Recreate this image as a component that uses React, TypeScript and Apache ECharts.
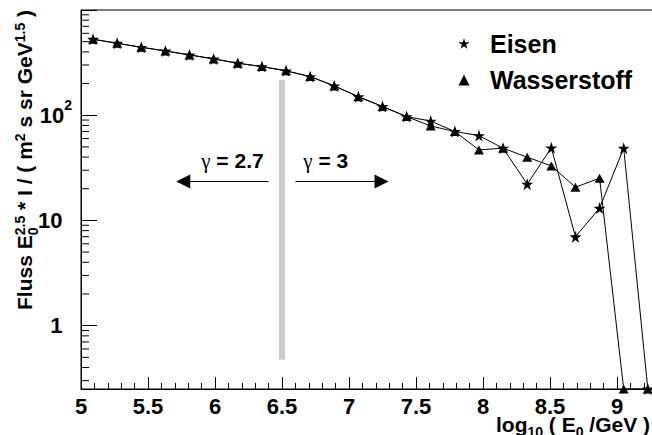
import { useEffect, useRef } from 'react';
import * as echarts from 'echarts';

// Bin centres, log10(E0/GeV)
const energies = [
  5.09, 5.27, 5.45, 5.63, 5.81, 5.99, 6.17, 6.35, 6.53, 6.71, 6.89, 7.07,
  7.25, 7.43, 7.61, 7.79, 7.97, 8.15, 8.33, 8.51, 8.69, 8.87, 9.05, 9.23,
];
// Flux E0^2.5 * I for iron primaries (0 = empty bin)
const eisen = [
  527, 483, 442, 408, 374, 343, 312, 290, 264, 233, 190, 150,
  121, 97, 88, 70, 64, 48.6, 22.1, 49, 7.0, 13.1, 48.6, 0,
];
// Flux E0^2.5 * I for hydrogen primaries (0 = empty bin)
const wasserstoff = [
  527, 483, 442, 408, 374, 343, 312, 290, 264, 233, 190, 150,
  121, 97, 79, 70, 46.8, 48.6, 39.9, 33, 20.7, 25.2, 0, 0,
];

const X_MIN = 5;
const X_MAX = 9.5;
const X_STEP = 0.5;
const Y_MIN = 0.25;
const Y_MAX = 1000;

// Knee marker: grey bar and the two spectral-index arrows
const kneeBar = [[6.5, 216], [6.5, 0.473]];
const arrowY = 23.4;
const arrowLeft = [6.4, 5.763];
const arrowRight = [6.6, 7.243];
const gammaBaseline = 31.5;
const gammaLeftEnd = 6.363;
const gammaRightStart = 6.659;

const FONT = '"Liberation Sans", Arial, Helvetica, sans-serif';
const SERIF = '"Liberation Serif", "Times New Roman", serif';
const STAR =
  'path://M0,-10L2.245,-3.09L9.51,-3.09L3.633,1.18L5.878,8.09L0,3.82L-5.878,8.09L-3.633,1.18L-9.51,-3.09L-2.245,-3.09Z';

type Seg = { t: string; size: number; dy?: number; stack?: boolean; family?: string; weight?: string };

// Lays out a run of text pieces along a common baseline (y = 0).
function layoutRun(segs: Seg[]) {
  const ctx = document.createElement('canvas').getContext('2d')!;
  const els: any[] = [];
  let x = 0;
  let pending = 0;
  for (const s of segs) {
    const family = s.family ?? FONT;
    const weight = s.weight ?? 'bold';
    ctx.font = `${weight} ${s.size}px ${family}`;
    const full = ctx.measureText(s.t).width;
    const trimmed = s.t.trim();
    const lead = s.t.length - s.t.trimStart().length;
    const offset = lead > 0 ? ctx.measureText(s.t.slice(0, lead)).width : 0;
    els.push({
      type: 'text',
      x: x + offset,
      y: (s.dy ?? 0) - 0.3465 * s.size,
      silent: true,
      style: {
        text: trimmed,
        fontSize: s.size,
        fontFamily: family,
        fontWeight: weight,
        lineHeight: Math.round(s.size * 0.8),
        fill: '#000',
        align: 'left',
        verticalAlign: 'middle',
      },
    });
    if (s.stack) {
      pending = Math.max(pending, full);
    } else {
      x += Math.max(pending, full);
      pending = 0;
    }
  }
  return { els, width: x };
}

const yMinorTicks: number[] = [];
for (const decade of [0.1, 1, 10, 100]) {
  for (let k = 2; k <= 9; k++) {
    const v = k * decade;
    if (v > Y_MIN && v < Y_MAX) yMinorTicks.push(v);
  }
}

const atFloor = (v: number) => (v > 0 ? v : Y_MIN);

export default function App() {
  const ref = useRef<HTMLDivElement>(null);

  useEffect(() => {
    const chart = echarts.init(ref.current!, null, { renderer: 'svg' });

    const option: any = {
      animation: false,
      backgroundColor: '#ffffff',
      grid: {
        left: 81,
        top: 10,
        width: 603,
        height: 379,
        show: true,
        borderColor: '#000',
        borderWidth: 1,
        backgroundColor: 'transparent',
        outerBoundsMode: 'none',
        containLabel: false,
      },
      legend: {
        orient: 'vertical',
        left: 453.5,
        top: 25.5,
        itemWidth: 11,
        itemHeight: 11,
        itemGap: 10.5,
        selectedMode: false,
        symbolKeepAspect: true,
        textStyle: {
          fontFamily: FONT,
          fontWeight: 'bold',
          fontSize: 25,
          lineHeight: 26,
          color: '#000',
          padding: [0, 0, 0, 15.5],
        },
        data: [
          { name: 'Eisen', icon: STAR },
          { name: 'Wasserstoff', icon: 'triangle' },
        ],
      },
      xAxis: {
        type: 'value',
        min: X_MIN,
        max: X_MAX,
        interval: X_STEP,
        axisLine: { lineStyle: { color: '#000', width: 1 } },
        axisTick: { inside: true, length: 12, lineStyle: { color: '#000', width: 1 } },
        minorTick: { show: true, splitNumber: 5, length: 6, lineStyle: { color: '#000', width: 1 } },
        splitLine: { show: false },
        axisLabel: {
          margin: 9,
          color: '#000',
          fontFamily: FONT,
          fontWeight: 'bold',
          fontSize: 22,
          lineHeight: 16,
          showMaxLabel: false,
          formatter: (v: number) => (v <= 9 ? String(v) : ''),
        },
      },
      yAxis: {
        type: 'log',
        logBase: 10,
        min: Y_MIN,
        max: Y_MAX,
        axisLine: { show: true, lineStyle: { color: '#000', width: 1 } },
        axisTick: { show: true, inside: true, length: 16, lineStyle: { color: '#000', width: 1 } },
        minorTick: { show: false },
        splitLine: { show: false },
        axisLabel: {
          margin: 9,
          color: '#000',
          fontFamily: FONT,
          fontWeight: 'bold',
          fontSize: 22,
          formatter: (v: number) => {
            const l = Math.log10(v);
            const e = Math.round(l);
            if (Math.abs(l - e) > 1e-6 || e < 0 || e > 2) return '';
            if (e === 2) return '{b|10}{e|2}';
            return `{b|${e === 0 ? '1' : '10'}}{p| }`;
          },
          rich: {
            b: { fontFamily: FONT, fontWeight: 'bold', fontSize: 22, lineHeight: 34, color: '#000' },
            e: { fontFamily: FONT, fontWeight: 'bold', fontSize: 14, lineHeight: 14, verticalAlign: 'top', color: '#000' },
            p: { width: 9.5, fontSize: 14 },
          },
        },
      },
      series: [
        {
          name: 'knee',
          type: 'line',
          data: kneeBar,
          symbol: 'none',
          silent: true,
          lineStyle: { color: '#cccccc', width: 6, cap: 'butt' },
          markLine: {
            silent: true,
            symbol: ['none', 'triangle'],
            symbolSize: 14,
            label: { show: false },
            lineStyle: { color: '#000', width: 1, type: 'solid' },
            data: [
              [{ coord: [arrowLeft[0], arrowY] }, { coord: [arrowLeft[1], arrowY] }],
              [{ coord: [arrowRight[0], arrowY] }, { coord: [arrowRight[1], arrowY] }],
            ],
          },
        },
        {
          name: 'yMinor',
          type: 'custom',
          silent: true,
          clip: false,
          data: yMinorTicks.map((v) => [X_MIN, v]),
          renderItem: (_p: any, api: any) => {
            const p = api.coord([api.value(0), api.value(1)]);
            return {
              type: 'line',
              shape: { x1: p[0], y1: p[1], x2: p[0] + 8, y2: p[1] },
              style: { stroke: '#000', lineWidth: 1 },
            };
          },
        },
        {
          name: 'Wasserstoff',
          type: 'line',
          data: energies.map((x, i) => [x, atFloor(wasserstoff[i])]),
          symbol: 'triangle',
          symbolSize: [10, 9],
          showAllSymbol: true,
          clip: false,
          itemStyle: { color: '#000' },
          lineStyle: { color: '#000', width: 1 },
        },
        {
          name: 'Eisen',
          type: 'line',
          data: energies.map((x, i) => [x, atFloor(eisen[i])]),
          symbol: STAR,
          symbolSize: 12,
          showAllSymbol: true,
          clip: false,
          itemStyle: { color: '#000' },
          lineStyle: { color: '#000', width: 1 },
        },
      ],
    };

    chart.setOption(option);

    // Axis titles
    const yTitle = layoutRun([
      { t: 'Fluss E', size: 21 },
      { t: '0', size: 14, dy: 6, stack: true },
      { t: '2.5', size: 14, dy: -7 },
      { t: ' * I / ( m', size: 21 },
      { t: '2', size: 14, dy: -7 },
      { t: ' s sr GeV', size: 21 },
      { t: '1.5', size: 14, dy: -7 },
      { t: ' )', size: 21 },
    ]);
    const xTitle = layoutRun([
      { t: 'log', size: 21 },
      { t: '10', size: 14, dy: 5 },
      { t: ' ( E', size: 21 },
      { t: '0', size: 14, dy: 5 },
      { t: ' /GeV )', size: 21 },
    ]);

    // Spectral index labels either side of the knee
    const gLeft = layoutRun([
      { t: 'γ', size: 21, family: SERIF, weight: 'normal' },
      { t: ' = 2.7', size: 21 },
    ]);
    const gRight = layoutRun([
      { t: 'γ', size: 21, family: SERIF, weight: 'normal' },
      { t: ' = 3', size: 21 },
    ]);
    const pL = chart.convertToPixel({ gridIndex: 0 }, [gammaLeftEnd, gammaBaseline]) as number[];
    const pR = chart.convertToPixel({ gridIndex: 0 }, [gammaRightStart, gammaBaseline]) as number[];

    chart.setOption({
      graphic: [
        { type: 'group', x: 32, y: 10 + yTitle.width, rotation: Math.PI / 2, children: yTitle.els },
        { type: 'group', x: 650 - xTitle.width, y: 431.7, children: xTitle.els },
        { type: 'group', x: pL[0] - gLeft.width, y: pL[1], children: gLeft.els },
        { type: 'group', x: pR[0], y: pR[1], children: gRight.els },
      ],
    });

    return () => chart.dispose();
  }, []);

  return (
    <div
      ref={ref}
      style={{ position: 'absolute', left: 0, top: 0, width: 652, height: 435, background: '#fff' }}
    />
  );
}
